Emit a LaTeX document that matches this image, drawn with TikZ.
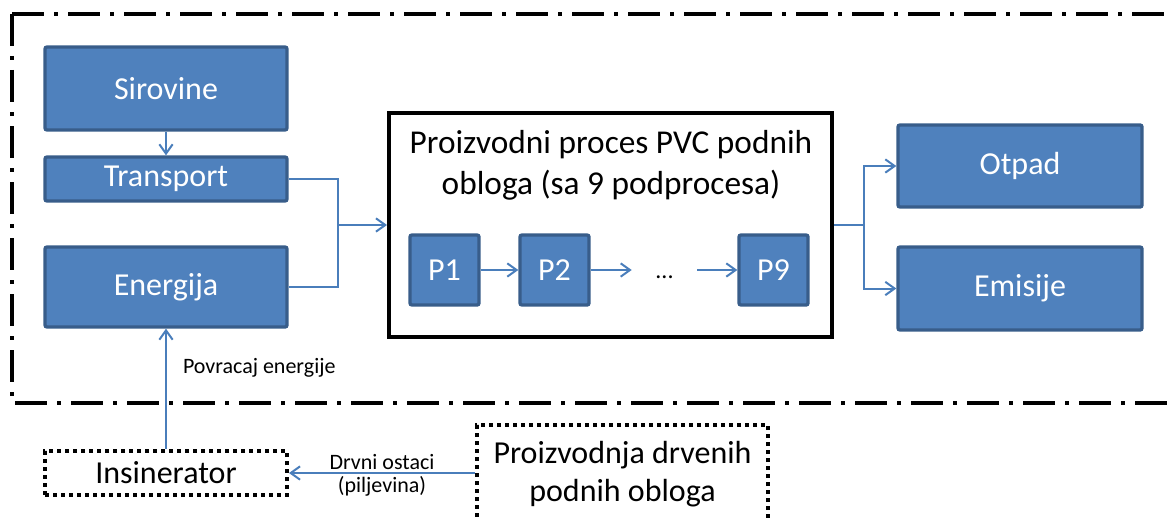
\documentclass[tikz,border=0pt]{standalone}
\usepackage{fontspec}
\setmainfont{Carlito}
\usetikzlibrary{arrows.meta}
\definecolor{boxblue}{HTML}{4F81BD}
\definecolor{boxedge}{HTML}{385D8A}
\definecolor{linkblue}{HTML}{4A7EBB}
\tikzset{
    blok/.style={rectangle, fill=boxblue, draw=boxedge, line width=2.5pt,
    	rounded corners=1.5pt, text=white, inner sep=0pt,
    	minimum width=181.5pt, font=\fontsize{24}{29}\selectfont},
    pblok/.style={blok, minimum width=51.75pt, minimum height=52.5pt},
    tockasti/.style={rectangle, draw, line width=3pt, dash pattern=on 3pt off 3pt,
    	inner sep=0pt, align=center, font=\fontsize{24}{28.5}\selectfont},
    proces/.style={rectangle, draw, line width=3pt, fill=white,
    	minimum width=332.25pt, minimum height=168pt},
    naslov/.style={align=center, inner sep=0pt, font=\fontsize{25}{30.75}\selectfont},
    tocke/.style={inner sep=0pt, minimum width=48.75pt, text height=12pt,
    	text depth=0pt, font=\fontsize{18}{20}\selectfont},
    mali/.style={inner sep=1.5pt, font=\fontsize{16.5}{19}\selectfont},
    okvir/.style={line width=3pt, dash pattern=on 24pt off 7.5pt on 3pt off 7.5pt}
}
\tikzset{
    veza/.style={draw=linkblue, line width=1.5pt},
    strelica/.style={veza, -{Straight Barb[length=7pt, width=10pt]}}
}

\begin{document}
\begin{tikzpicture}[x=0.75pt, y=-0.75pt]
	\clip (0,0) rectangle (1169,517);
	% granica sustava
	\draw[okvir] (12,14) -- (1190,14);
	\draw[okvir] (12,14) -- (12,403) -- (1190,403);
	\node[blok, minimum height=62.25pt] (sir) at (166,88.5) {Sirovine};
	\node[blok, minimum height=33pt] (tra) at (166,179) {Transport};
	\node[blok, minimum height=60pt] (ene) at (166,287) {Energija};
	\node[proces] (proc) at (610.5,225) {};
	\node[naslov] (nas) at (611,165) {Proizvodni proces PVC podnih\\obloga (sa 9 podprocesa)};
	\node[pblok] (p1) at (444.5,270) {P1};
	\node[pblok] (p2) at (554.5,270) {P2};
	\node[tocke] (dots) at (664.5,270) {...};
	\node[pblok] (p9) at (773.5,270) {P9};
	\node[blok, minimum width=183pt, minimum height=61.5pt] (otp) at (1020,166) {Otpad};
	\node[blok, minimum width=183pt, minimum height=62.25pt] (emi) at (1020,288.5) {Emisije};
	\node[tockasti, minimum width=181.5pt, minimum height=33pt] (ins) at (166,473) {Insinerator};
	\node[tockasti, minimum width=218.25pt, minimum height=73.5pt] (drv) at (622.5,474) {Proizvodnja drvenih\\podnih obloga};
	\coordinate (ul) at (338,225);
	\coordinate (iz) at (864,225);
	\draw (sir) edge[strelica] (tra);
	\draw[veza] (tra.east) -| (ul);
	\draw[veza] (ene.east) -| (ul);
	\draw (ul) edge[strelica] (proc.west);
	\draw[veza] (proc.east) -- (iz);
	\draw[strelica] (iz) |- (otp.west);
	\draw[strelica] (iz) |- (emi.west);
	\draw (p1) edge[strelica] (p2); \draw (p2) edge[strelica] (dots);
	\draw (dots) edge[strelica] (p9);
	\draw (ins) edge[strelica] node[mali, pos=0.675, anchor=west, inner sep=0pt, xshift=12pt] {Povracaj energije} (ene);
	\draw (drv.west |- ins.east) edge[strelica] node[mali, above] {Drvni ostaci} node[mali, below] {(piljevina)} (ins.east);
\end{tikzpicture}
\end{document}
